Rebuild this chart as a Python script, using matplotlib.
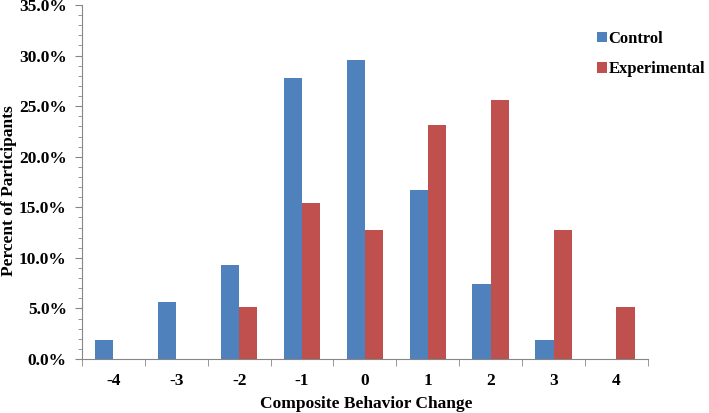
import matplotlib
matplotlib.use("Agg")
import matplotlib.pyplot as plt
import numpy as np
from matplotlib.ticker import MultipleLocator, FuncFormatter, FixedLocator

categories = ["-4", "-3", "-2", "-1", "0", "1", "2", "3", "4"]
control = [1.9, 5.6, 9.3, 27.8, 29.6, 16.7, 7.4, 1.9, 0.0]
experimental = [0.0, 0.0, 5.1, 15.4, 12.8, 23.1, 25.6, 12.8, 5.1]
series_names = ["Control", "Experimental"]

plt.rcParams['font.family'] = ['Liberation Serif', 'DejaVu Serif']
plt.rcParams['font.weight'] = 'bold'

fig = plt.figure(figsize=(7.09, 4.13), dpi=100)
ax = fig.add_axes([0.1157, 0.1308, 0.798, 0.857])

x = np.arange(len(categories))
w = 0.29
ax.bar(x - w/2, control, width=w, color="#4F81BD", label=series_names[0])
ax.bar(x + w/2, experimental, width=w, color="#C0504D", label=series_names[1])

ax.set_xlim(-0.5, len(categories) - 0.5)
ax.set_ylim(0, 35)
ax.yaxis.set_major_locator(MultipleLocator(5))
ax.yaxis.set_minor_locator(MultipleLocator(1))
ax.yaxis.set_major_formatter(FuncFormatter(lambda v, p: f"{v:.1f}%"))
ax.set_xticks(x)
ax.set_xticklabels(categories)
ax.xaxis.set_minor_locator(FixedLocator(np.arange(-0.5, len(categories), 1.0)))
ax.tick_params(axis='x', which='major', length=0, pad=10, labelsize=12.5)
ax.tick_params(axis='x', which='minor', length=5, color='#868686', direction='out')
ax.tick_params(axis='y', which='major', length=5, color='#868686', labelsize=12.5, pad=6)
ax.tick_params(axis='y', which='minor', length=3, color='#868686')
for lab in ax.get_xticklabels() + ax.get_yticklabels():
    lab.set_fontweight('bold')

for s in ['top', 'right']:
    ax.spines[s].set_visible(False)
for s in ['left', 'bottom']:
    ax.spines[s].set_color('#868686')

ax.set_ylabel("Percent of Participants", fontsize=12.5, fontweight='bold')
ax.yaxis.set_label_coords(-0.1155, 0.477)
ax.set_xlabel("Composite Behavior Change", fontsize=12.5, fontweight='bold')
ax.xaxis.set_label_coords(0.502, -0.1045)

leg = fig.legend(loc='upper left', bbox_to_anchor=(597/709, 1 - 31/413), frameon=False,
                 handlelength=0.6, handleheight=0.6, handletextpad=0.1,
                 labelspacing=0.85, borderpad=0, borderaxespad=0,
                 prop={'weight': 'bold', 'size': 12})

fig.savefig("out.png", dpi=100)
